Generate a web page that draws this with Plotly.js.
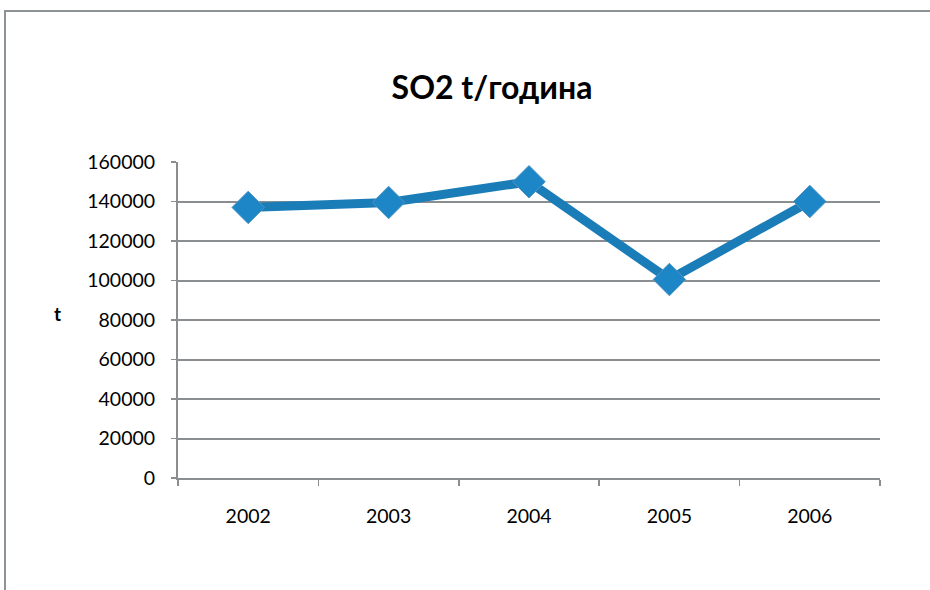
<!DOCTYPE html>
<html>
<head>
<meta charset="utf-8">
<script src="https://cdn.plot.ly/plotly-3.0.1.min.js"></script>
<style>
  html, body { margin: 0; padding: 0; background: #fff; }
  #wrap { position: relative; width: 930px; height: 590px; }
  #chart { width: 930px; height: 590px; }
  #frame { position: absolute; left: 4px; top: 10px; width: 940px; height: 600px;
           border-left: 2px solid #8c9396; border-top: 2px solid #8c9396; pointer-events: none; }
</style>
</head>
<body>
<div id="wrap">
  <div id="chart"></div>
  <div id="frame"></div>
</div>
<script>
const years = ['2002', '2003', '2004', '2005', '2006'];
const so2 = [137000, 139500, 150000, 100500, 140000];
const yTicks = [0, 20000, 40000, 60000, 80000, 100000, 120000, 140000, 160000];
const titleText = 'SO2 t/година';
const yTitle = 't';

const font = 'Lato, "Open Sans", sans-serif';

Plotly.newPlot('chart', [{
  x: years,
  y: so2,
  type: 'scatter',
  mode: 'lines+markers',
  line: { color: '#1a7db8', width: 9 },
  marker: { symbol: 'diamond', size: 25, color: '#1c86c6', line: { color: '#4f93c2', width: 1 } },
  hoverinfo: 'x+y'
}], {
  width: 930, height: 590,
  margin: { l: 178, r: 50, t: 162, b: 112 },
  paper_bgcolor: '#ffffff', plot_bgcolor: '#ffffff',
  showlegend: false,
  title: {
    text: '<b>' + titleText + '</b>',
    font: { family: font, size: 32, color: '#000' },
    x: 492 / 930, xref: 'container', xanchor: 'center',
    y: 1 - 88 / 590, yref: 'container', yanchor: 'middle'
  },
  xaxis: {
    type: 'category',
    range: [-0.5, 4.5],
    tickson: 'boundaries',
    ticks: 'outside', ticklen: 6, tickwidth: 1.5, tickcolor: '#8a8e91',
    showline: true, linecolor: '#8a8e91', linewidth: 2,
    showgrid: false, zeroline: false,
    ticklabelstandoff: 20,
    tickfont: { family: font, size: 19.5, color: '#000' }
  },
  yaxis: {
    range: [0, 160000],
    tickvals: yTicks,
    ticktext: yTicks.map(String),
    ticks: 'outside', ticklen: 5, tickwidth: 1.5, tickcolor: '#8a8e91',
    showline: true, linecolor: '#8a8e91', linewidth: 2,
    showgrid: true, gridcolor: '#8a8e91', gridwidth: 2,
    zeroline: false,
    ticklabelstandoff: 12,
    tickfont: { family: font, size: 19.5, color: '#000' }
  },
  annotations: [{
    text: '<b>' + yTitle + '</b>',
    xref: 'paper', yref: 'paper',
    x: (57 - 178) / 702, y: (478 - 313) / 316,
    xanchor: 'center', yanchor: 'middle',
    showarrow: false,
    font: { family: font, size: 19, color: '#000' }
  }]
}, { displayModeBar: false, staticPlot: true });
</script>
</body>
</html>
